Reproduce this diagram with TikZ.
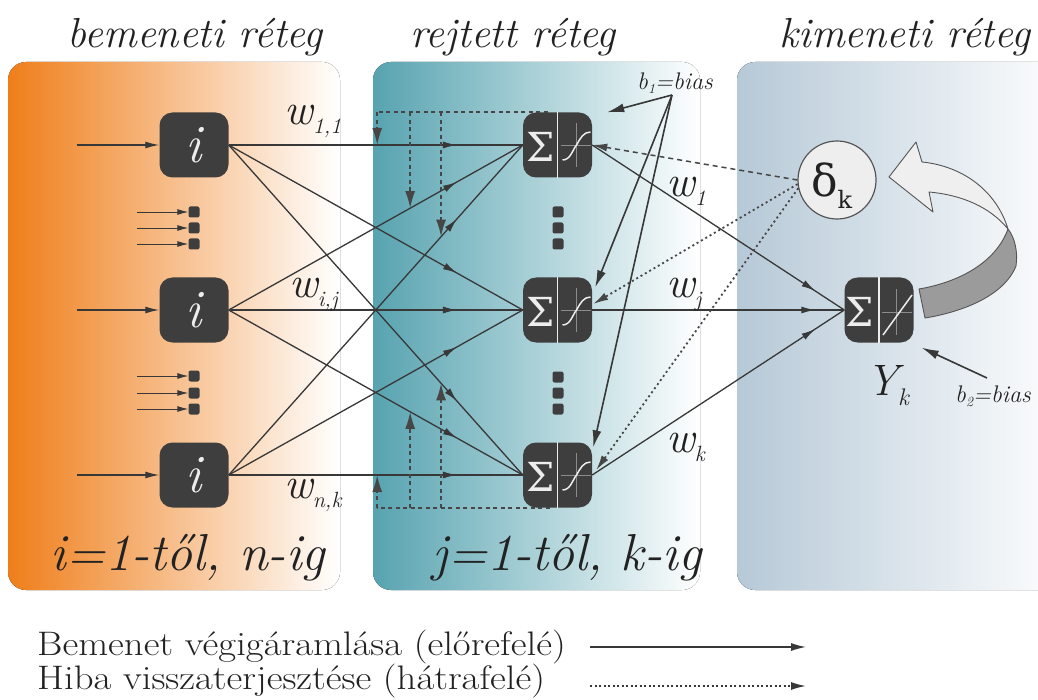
\documentclass[tikz,border=0pt]{standalone}
\usepackage{fontspec}
\newfontfamily\grk{DejaVu Serif}
\usetikzlibrary{calc,arrows.meta,decorations.markings}
\definecolor{nodegray}{HTML}{3E3E3E}
\definecolor{linegray}{HTML}{383838}
\definecolor{dashgray}{HTML}{464646}
\definecolor{symwhite}{HTML}{EDEDED}
\definecolor{crossgray}{HTML}{8C8C8C}
\definecolor{orangeL}{HTML}{EF7E1A}
\definecolor{tealL}{HTML}{57A3B0}
\definecolor{blueL}{HTML}{B6C9D7}
\definecolor{textgray}{HTML}{222222}
\definecolor{darkband}{HTML}{9B9B9B}
\definecolor{lightband}{HTML}{EFEFEF}
\definecolor{bandedge}{HTML}{555555}
\definecolor{deltafill}{HTML}{EEEEEE}
\newcommand{\fsz}[1]{\fontsize{#1}{#1}\selectfont}
\newcommand{\wlab}[1]{{\fsz{44}\itshape w}\raisebox{-9pt}{\fsz{22}\itshape #1}}
\newcommand{\hidbody}[1]{%
  \draw[symwhite, line width=1.8pt] (#1.north) -- (#1.south);
  \node[text=symwhite, font=\grk\fsz{40}, inner sep=0] (#1s) at ($(#1.center)+(-17,2)$) {Σ};
  \draw[crossgray, line width=0.7pt] ($(#1.center)+(3,0)$) -- ($(#1.center)+(33,0)$);
  \draw[crossgray, line width=0.7pt] ($(#1.center)+(19,-22)$) -- ($(#1.center)+(19,22)$);
  \draw[symwhite, line width=1.5pt] ($(#1.center)+(5,15)$) .. controls ($(#1.center)+(13,15)$) and ($(#1.center)+(15,5)$) .. ($(#1.center)+(19,0)$) .. controls ($(#1.center)+(23,-7)$) and ($(#1.center)+(26,-13)$) .. ($(#1.center)+(33,-13)$);
}
\begin{document}
\begin{tikzpicture}[x=1pt,y=-1pt,
  neuron/.style={draw=none, fill=nodegray, rounded corners=13pt, minimum width=69pt, minimum height=65pt, inner sep=0},
  smalldot/.style={draw=none, fill=nodegray, rounded corners=2pt, minimum width=11pt, minimum height=11pt, inner sep=0},
  fwd/.style={draw=linegray, line width=1.3pt, postaction={decorate}, decoration={markings, mark=at position #1 with {\arrow{Latex[length=14pt,width=7pt]}}}},
  inarr/.style={draw=linegray, line width=1.3pt, -{Latex[length=14pt,width=7pt]}},
  smallarr/.style={draw=linegray, line width=0.9pt, -{Latex[length=11pt,width=6pt]}},
  biasarr/.style={draw=linegray, line width=1.6pt, -{Latex[length=17pt,width=9pt]}},
  bwdA/.style={draw=dashgray, line width=1.5pt, dash pattern=on 5pt off 4pt, -{Latex[length=15pt,width=8pt]}},
  bwdB/.style={draw=dashgray, line width=1.8pt, dash pattern=on 2pt off 3pt, -{Latex[length=15pt,width=8pt]}},
  bwdC/.style={draw=dashgray, line width=1.8pt, dash pattern=on 4pt off 3.5pt},
  bwdCarr/.style={bwdC, -{Latex[length=17pt,width=10pt]}},
  txt/.style={text=textgray, inner sep=0}
]
\clip (0,0) rectangle (1038,700);
\fill[white] (0,0) rectangle (1038,700);
% panels
\fill[left color=orangeL, right color=white, rounded corners=18pt] (8,62) rectangle (340,590);
\fill[left color=tealL, right color=white, rounded corners=18pt] (373,62) rectangle (700,590);
\fill[left color=blueL, right color=white!97!blueL, rounded corners=18pt] (737,62) rectangle (1060,590);

% titles
\node[txt, font=\fsz{42}\itshape, anchor=base] (t1) at (195,48) {bemeneti réteg};
\node[txt, font=\fsz{42}\itshape, anchor=base] (t2) at (513,48) {rejtett réteg};
\node[txt, font=\fsz{42}\itshape, anchor=base] (t3) at (905,48) {kimeneti réteg};

% nodes
\foreach \k/\yy in {1/145,2/310,3/475}{
  \node[neuron, text=symwhite, font=\fsz{54}\itshape] (i\k) at (194,\yy) {i};
  \node[neuron] (h\k) at (557.5,\yy) {};
  \coordinate (s\k) at (77,\yy);
}
\node[neuron] (o) at (879,310) {};

% small input dots
\foreach \k/\yy in {1/212,2/228,3/244,4/376,5/393,6/409}{
  \node[smalldot] (d\k) at (194,\yy) {};
  \coordinate (ds\k) at (137,\yy);
  \draw[smallarr] (ds\k) -- (d\k.west);
}
% hidden dots
\foreach \k/\yy in {1/212,2/228,3/244,4/377,5/393,6/409}{
  \node[smalldot] (e\k) at (558,\yy) {};
}

% input arrows
\foreach \k in {1,2,3}{ \draw[inarr] (s\k) -- (i\k.west); }

% input -> hidden
\foreach \a in {1,2,3}{
  \foreach \b in {1,2,3}{
    \draw[fwd=0.776] (i\a.east) -- (h\b.west);
  }
}
% hidden -> output
\foreach \b in {1,2,3}{ \draw[fwd=0.885] (h\b.east) -- (o.west); }

% node bodies
\hidbody{h1}
\hidbody{h2}
\hidbody{h3}
\draw[symwhite, line width=1.8pt] (o.north) -- (o.south);
\node[text=symwhite, font=\grk\fsz{40}, inner sep=0] (os) at ($(o.center)+(-19,2)$) {Σ};
\draw[crossgray, line width=0.7pt] ($(o.center)+(3,2)$) -- ($(o.center)+(33,2)$);
\draw[crossgray, line width=0.7pt] ($(o.center)+(17,-21)$) -- ($(o.center)+(17,25)$);
\draw[symwhite, line width=1.5pt] ($(o.center)+(4,25)$) -- ($(o.center)+(33,-15)$);

% backward dashed lines in hidden layer
\coordinate (dtop) at ($(h1.north west)+(25,0)$);
\coordinate (dbot) at ($(h3.south west)+(27,0)$);
\coordinate (ta) at ($(i1.east)!0.505!(h1.west)$);
\coordinate (tb) at ($(i2.east)!0.617!(h1.west)$);
\coordinate (tc) at ($(i3.east)!0.722!(h1.west)$);
\coordinate (ba) at ($(i3.east)!0.505!(h3.west)$);
\coordinate (bb) at ($(i2.east)!0.617!(h3.west)$);
\coordinate (bc) at ($(i1.east)!0.722!(h3.west)$);
\draw[bwdC] (dtop) -- (ta |- dtop);
\draw[bwdCarr] (ta |- dtop) -- (ta);
\draw[bwdCarr] (tb |- dtop) -- (tb);
\draw[bwdCarr] (tc |- dtop) -- (tc);
\draw[bwdC] (dbot) -- (ba |- dbot);
\draw[bwdCarr] (ba |- dbot) -- (ba);
\draw[bwdCarr] (bb |- dbot) -- (bb);
\draw[bwdCarr] (bc |- dbot) -- (bc);

% weight labels
\node[txt, anchor=base west] (w11) at (284,125) {\wlab{1,1}};
\node[txt, anchor=base west] (wij) at (289,298) {\wlab{i,j}};
\node[txt, anchor=base west] (wnk) at (284,498) {\wlab{n,k}};
\node[txt, anchor=base west] (w1) at (666,197) {\wlab{1}};
\node[txt, anchor=base west] (wj) at (666,298) {\wlab{j}};
\node[txt, anchor=base west] (wk) at (666,452) {\wlab{k}};

% delta
\node[circle, draw=bandedge, fill=deltafill, line width=1.2pt, minimum size=78pt, inner sep=0] (delta) at (837,180) {};
\node[txt, anchor=base west] (dk) at (811,197) {{\grk\fsz{44}δ}\raisebox{-12pt}{\grk\fsz{24}k}};

% delta -> hidden
\draw[bwdA] (delta.west) -- (h1.east);
\draw[bwdB] (delta.186) -- ($(h2.east)+(1,-6)$);
\draw[bwdB] (delta.192) -- ($(h3.east)+(4,-5)$);

% bias
\coordinate (b1) at (672,95);
\node[txt, font=\fsz{24}\itshape, anchor=base west] (b1t) at (637,90) {b\raisebox{-4pt}{\fsz{14}1}=bias};
\draw[biasarr] (b1) -- ($(h1.north east)+(15,0)$);
\draw[biasarr] (b1) -- ($(h2.north east)+(3,10)$);
\draw[biasarr] (b1) -- ($(h3.north east)+(1,5)$);
\coordinate (b2) at (987,378);
\node[txt, font=\fsz{24}\itshape, anchor=base west] (b2t) at (955,402) {b\raisebox{-4pt}{\fsz{14}2}=bias};
\draw[biasarr] (b2) -- ($(o.south east)+(8,5)$);

% Y_k
\node[txt, anchor=base west] (yk) at (866,395) {{\fsz{44}\itshape Y}\raisebox{-10pt}{\fsz{24}\itshape k}};

% big curved arrow
\filldraw[fill=darkband, draw=bandedge, line width=0.9pt, line join=round]
  (919,289) .. controls (960,282) and (996,262) .. (1008,229)
  .. controls (1015,238) and (1018,252) .. (1016,266)
  .. controls (1004,296) and (962,312) .. (925,318) -- cycle;
\filldraw[fill=lightband, draw=bandedge, line width=0.9pt, line join=round]
  (889,177) -- (916,142) -- (922,162)
  .. controls (962,166) and (996,190) .. (1008,229)
  .. controls (990,207) and (962,195) .. (929,192)
  -- (933,212) -- cycle;

% bottom labels
\node[txt, font=\fsz{52}\itshape, anchor=base] (r1) at (188,570) {i=1-től, n-ig};
\node[txt, font=\fsz{52}\itshape, anchor=base] (r2) at (567,570) {j=1-től, k-ig};

% legend
\node[txt, font=\fsz{34}, anchor=base west] (l1) at (37,655) {\scalebox{1.14}[1]{Bemenet végigáramlása (előrefelé)}};
\node[txt, font=\fsz{34}, anchor=base west] (l2) at (37,689) {\scalebox{1.14}[1]{Hiba visszaterjesztése (hátrafelé)}};
\coordinate (l1a) at (590,647);
\coordinate (l1b) at (806,647);
\coordinate (l2a) at (590,686);
\coordinate (l2b) at (806,686);
\draw[draw=linegray, line width=1.3pt, -{Latex[length=15pt,width=8pt]}] (l1a) -- (l1b);
\draw[draw=linegray, line width=1.6pt, dash pattern=on 2pt off 2.5pt, -{Latex[length=15pt,width=8pt]}] (l2a) -- (l2b);
\end{tikzpicture}
\end{document}
